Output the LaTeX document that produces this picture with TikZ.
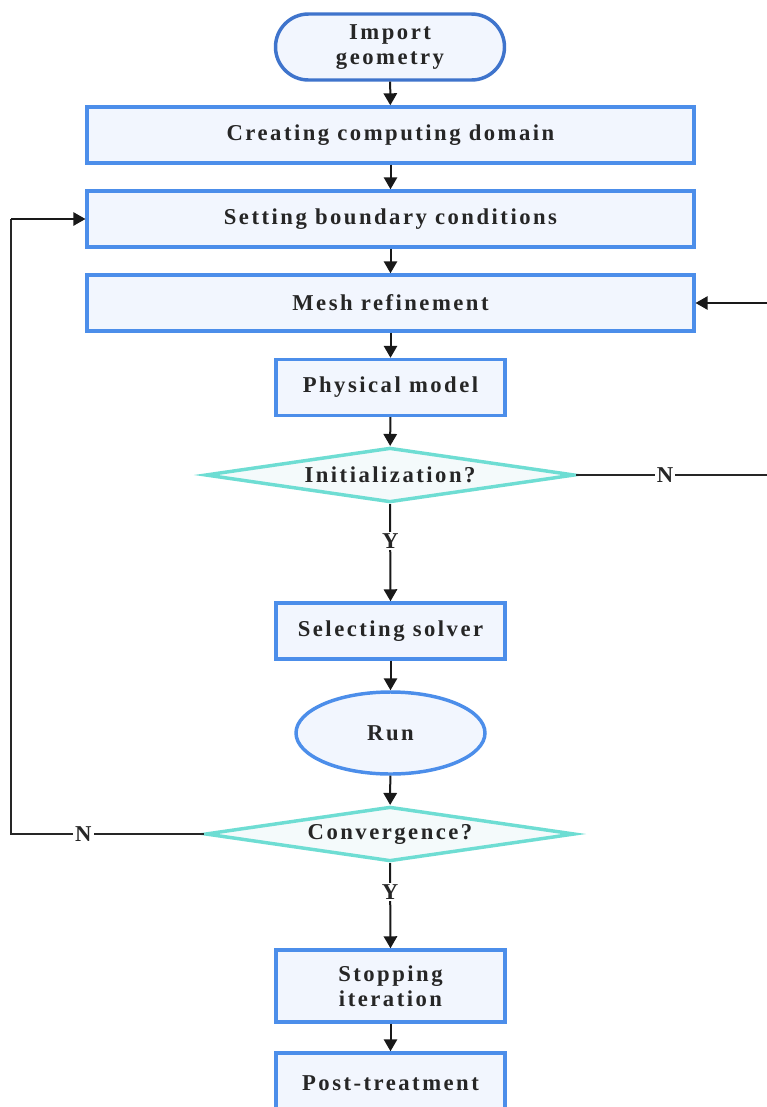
\documentclass[tikz,border=0pt]{standalone}
\usepackage{fontspec}
\setmainfont{Liberation Serif}
\newfontfamily\labfont[LetterSpace=11]{Liberation Serif}
\usetikzlibrary{shapes.geometric,shapes.misc,arrows.meta}
\definecolor{boxblue}{HTML}{4C8EEA}
\definecolor{stadblue}{HTML}{3F74CC}
\definecolor{boxfill}{HTML}{F2F6FE}
\definecolor{diaedge}{HTML}{6EDDD3}
\definecolor{diafill}{HTML}{F4FAFB}
\definecolor{txt}{HTML}{262626}
\tikzset{
  lab/.style={font=\labfont\bfseries\fontsize{17}{19}\selectfont, text=txt, align=center},
  widebox/.style={lab, draw=boxblue, fill=boxfill, line width=2.6pt, minimum width=455pt, minimum height=42pt, inner sep=0pt},
  smallbox/.style={lab, draw=boxblue, fill=boxfill, line width=2.6pt, minimum width=171.75pt, minimum height=42pt, inner sep=0pt},
  stad/.style={lab, rounded rectangle, draw=stadblue, fill=boxfill, line width=2.6pt, minimum width=171.75pt, minimum height=49.5pt, inner sep=0pt},
  oval/.style={lab, ellipse, draw=boxblue, fill=boxfill, line width=2.6pt, minimum width=141.75pt, minimum height=61.5pt, inner sep=0pt},
  dia/.style={lab, diamond, draw=diaedge, fill=diafill, line width=2.6pt, minimum width=277pt, minimum height=41pt, shape aspect=6.8, inner sep=0pt},
  arr/.style={draw=black!90, line width=1.5pt, -{Triangle[length=9pt,width=10pt]}},
  ln/.style={draw=black!85, line width=1.1pt},
  yn/.style={font=\bfseries\fontsize{17}{19}\selectfont, text=txt, fill=white, inner sep=1.5pt}
}
\begin{document}
\begin{tikzpicture}[x=0.75pt,y=-0.75pt]
\fill[white] (0,0) rectangle (767,1107);
\clip (0,0) rectangle (767,1107);
\node[stad] (imp) at (390,47) {Import\\geometry};
\node[widebox] (dom) at (390.5,135) {Creating computing domain};
\node[widebox] (bnd) at (390.5,219) {Setting boundary conditions};
\node[widebox] (mesh) at (390.5,303) {Mesh refinement};
\node[smallbox] (phys) at (390.5,387.5) {Physical model};
\node[dia] (init) at (390,475) {Initialization?};
\node[smallbox] (solv) at (390.5,631) {Selecting solver};
\node[oval] (run) at (390.5,733) {Run};
\node[dia] (conv) at (390,834) {Convergence?};
\node[smallbox, minimum height=54pt] (stop) at (390.5,986) {Stopping\\iteration};
\node[smallbox, minimum height=45pt] (post) at (390.5,1083) {Post-treatment};
\coordinate (rtop) at (790,303);
\coordinate (rbot) at (790,475);
\coordinate (ltop) at (11,219);
\coordinate (lbot) at (11,834);
\draw[arr] (imp) -- (dom);
\draw[arr] (dom) -- (bnd);
\draw[arr] (bnd) -- (mesh);
\draw[arr] (mesh) -- (phys);
\draw[arr] (phys) -- (init);
\draw[arr] (init.south) -- node[yn, pos=0.38] {Y} (solv.north);
\draw[arr] (solv) -- (run);
\draw[arr] (run) -- (conv);
\draw[arr] (conv.south) -- node[yn, pos=0.34] {Y} (stop.north);
\draw[arr] (stop) -- (post);
\draw[ln] (init.east) -- node[yn, pos=0.415] {N} (rbot) -- (rtop);
\draw[arr, line width=1.1pt] (rtop) -- (mesh.east);
\draw[ln] (conv.west) -- node[yn, pos=0.624] {N} (lbot) -- (ltop);
\draw[arr, line width=1.1pt] (ltop) -- (bnd.west);
\end{tikzpicture}
\end{document}
